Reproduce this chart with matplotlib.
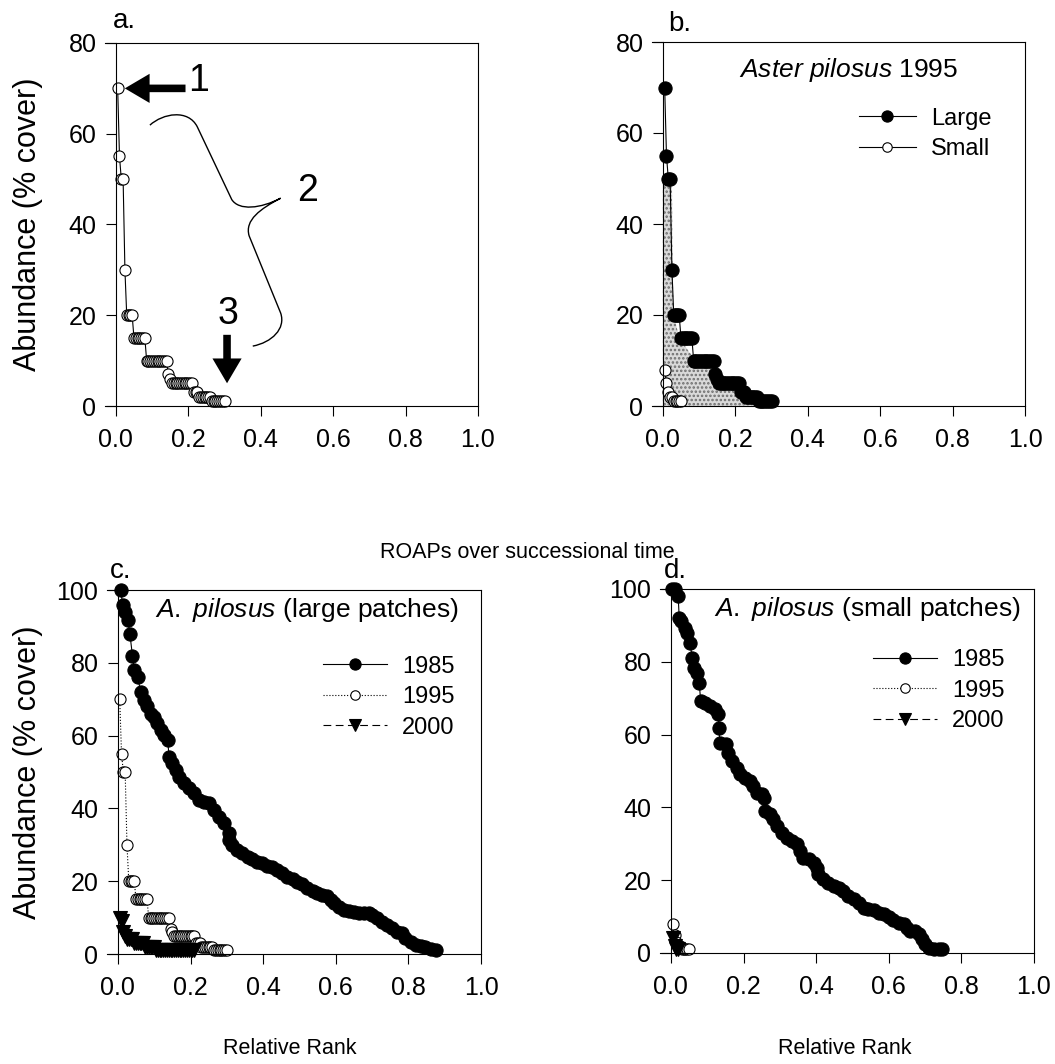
import numpy as np
import matplotlib
matplotlib.use('Agg')
from matplotlib import pyplot as plt
from matplotlib.path import Path
from matplotlib.patches import PathPatch, Polygon

plt.rcParams['font.family'] = ['Liberation Sans', 'DejaVu Sans']
plt.rcParams['mathtext.fontset'] = 'custom'
plt.rcParams['mathtext.rm'] = 'Liberation Sans'
plt.rcParams['mathtext.it'] = 'Liberation Sans:italic'
plt.rcParams['hatch.linewidth'] = 1.2

# number of patches used for relative rank (rank / N)
N_PATCH = 200

# 1995, large patches (also panel a and "Large" in b)
large_1995 = [70, 55, 50, 50, 30, 20, 20, 20, 20,
              15, 15, 15, 15, 15, 15, 15,
              10, 10, 10, 10, 10, 10, 10, 10, 10, 10, 10, 10,
              7, 6,
              5, 5, 5, 5, 5, 5, 5, 5, 5, 5, 5, 5,
              3, 3, 3,
              2, 2, 2, 2, 2, 2, 2,
              1, 1, 1, 1, 1, 1, 1, 1]

# 2000, large patches
large_2000 = [10, 9, 6, 5, 4, 4, 4, 4, 3, 3, 3, 3, 3, 3,
              2, 2, 2, 2, 2, 2,
              1, 1, 1, 1, 1, 1, 1, 1, 1, 1, 1,
              1, 1, 1, 1, 1, 1, 1, 1, 1, 1, 1]

# 1995 / 2000, small patches
small_1995 = [8, 5, 3, 2, 2, 1, 1, 1, 1, 1]
small_2000 = [4, 2, 1, 1]

# 1985, large patches (rank, abundance)
large_1985_rank = [0.008, 0.013, 0.019, 0.027, 0.033, 0.040, 0.045, 0.054, 0.063,
                   0.072, 0.080, 0.090, 0.100, 0.109, 0.118, 0.127, 0.137, 0.141,
                   0.150, 0.160, 0.169, 0.182, 0.196, 0.210, 0.224, 0.238, 0.251,
                   0.265, 0.279, 0.293, 0.306, 0.306, 0.315, 0.329, 0.343, 0.357,
                   0.370, 0.384, 0.398, 0.412, 0.425, 0.439, 0.453, 0.467, 0.481,
                   0.494, 0.508, 0.522, 0.536, 0.549, 0.563, 0.577, 0.586, 0.595,
                   0.609, 0.623, 0.636, 0.650, 0.664, 0.678, 0.691, 0.700, 0.714,
                   0.728, 0.742, 0.756, 0.769, 0.783, 0.792, 0.806, 0.820, 0.834,
                   0.847, 0.861, 0.875]
large_1985_abund = [100, 95.9, 94, 91.8, 88, 82, 78, 76.2, 72,
                    69.8, 68, 66, 65.2, 63.4, 61.5, 60.2, 58.8, 54.2,
                    52.4, 50.5, 48.7, 46.9, 45.5, 44.1, 42.3, 41.8, 41.4,
                    39.6, 37.7, 35.9, 33.2, 31.3, 30, 28.6, 27.7, 26.7,
                    26, 25.4, 24.9, 24.2, 23.8, 23.1, 22.2, 21.2, 20.5,
                    19.9, 19.2, 18, 17.4, 16.7, 16.2, 15.8, 14.8, 13.9,
                    13, 12.1, 11.8, 11.6, 11.4, 11.4, 11.4, 10.7, 9.8,
                    8.9, 8, 7.1, 6.1, 5.9, 4.3, 3.4, 2.5, 2.2,
                    2, 1.3, 1.1]

# 1985, small patches (rank, abundance)
small_1985_rank = [0.002, 0.011, 0.020, 0.023, 0.029, 0.039, 0.045, 0.052, 0.059,
                   0.063, 0.073, 0.078, 0.082, 0.094, 0.108, 0.121, 0.131, 0.132,
                   0.135, 0.152, 0.158, 0.167, 0.181, 0.190, 0.204, 0.218, 0.227,
                   0.238, 0.250, 0.257, 0.259, 0.273, 0.282, 0.293, 0.305, 0.319,
                   0.333, 0.347, 0.356, 0.365, 0.379, 0.393, 0.402, 0.406, 0.420,
                   0.434, 0.448, 0.462, 0.475, 0.489, 0.503, 0.517, 0.531, 0.544,
                   0.558, 0.572, 0.586, 0.600, 0.613, 0.627, 0.641, 0.650, 0.659,
                   0.673, 0.682, 0.691, 0.700, 0.710, 0.724, 0.737, 0.747]
small_1985_abund = [100, 100, 98, 92, 91.2, 89.4, 88, 85.3, 81.1,
                    78.4, 77, 74.3, 69.2, 68.8, 67.9, 66.9, 65.6, 61.9,
                    57.8, 57.3, 55, 52.7, 50.9, 49.1, 48.2, 47.3, 45.9,
                    44, 43.6, 42.7, 39, 38.1, 36.7, 34.9, 33.1, 31.7,
                    30.8, 29.9, 28, 26.2, 25.7, 24.8, 23.4, 21.6, 20.2,
                    19.3, 18.4, 17.9, 17, 15.7, 14.7, 13.8, 12.5, 12.2,
                    11.7, 11.1, 10.6, 9.9, 9.2, 8.3, 7.9, 7, 6,
                    6, 5.1, 3.8, 2.4, 1.5, 1, 1, 1]

# shaded region in panel b
shade_rank = [0.0, 0.0, 0.025, 0.027, 0.030, 0.045, 0.075, 0.13, 0.19, 0.25]
shade_abund = [0, 50, 50, 30, 20, 15, 11.6, 8.6, 4.2, 0]


def ranks(vals):
    return np.arange(1, len(vals) + 1) / N_PATCH


def setup(ax, ymax):
    ax.set_xlim(-0.03, 1.0)
    ax.set_ylim(0, ymax)
    ax.spines['left'].set_position(('data', 0))
    for s in ax.spines.values():
        s.set_linewidth(0.8)
    ax.set_xticks(np.arange(0, 1.01, 0.2))
    ax.set_xticklabels(['%.1f' % v for v in np.arange(0, 1.01, 0.2)])
    ax.set_yticks(np.arange(0, ymax + 1, 20))
    ax.tick_params(direction='out', length=7, width=0.8, labelsize=18,
                   top=False, right=False)
    ax.tick_params(axis='x', pad=9)
    ax.tick_params(axis='y', pad=7)


def series(ax, x, y, ls, marker, filled, label=None):
    return ax.plot(x, y, linestyle=ls, color='k', lw=0.8, marker=marker,
                   ms=9.5 if filled else 8,
                   mfc='k' if filled else 'w', mec='k', mew=0.8,
                   clip_on=False, label=label)[0]


def legend(ax, handles, labels, anchor, hlen):
    ax.legend(handles, labels, loc='upper left', bbox_to_anchor=anchor,
              frameon=False, fontsize=17, handlelength=hlen,
              handletextpad=0.65, labelspacing=0.36, borderpad=0,
              borderaxespad=0, markerscale=0.85)


fig = plt.figure(figsize=(10.55, 10.64), dpi=100)
W, H = 1055.0, 1064.0
ax_a = fig.add_axes([105 / W, 1 - 406 / H, 373 / W, 363 / H])
ax_b = fig.add_axes([652 / W, 1 - 406 / H, 373 / W, 364 / H])
ax_c = fig.add_axes([107 / W, 1 - 954 / H, 374 / W, 364 / H])
ax_d = fig.add_axes([660 / W, 1 - 953 / H, 374 / W, 364 / H])

# panel a
setup(ax_a, 80)
series(ax_a, ranks(large_1995), large_1995, '-', 'o', False)
arrow = dict(arrowstyle='simple,head_length=0.85,head_width=1.0,tail_width=0.26',
             mutation_scale=21, fc='k', ec='k', lw=0)
ax_a.annotate('', xy=(0.017, 70), xytext=(0.2, 70), arrowprops=arrow)
ax_a.annotate('', xy=(0.307, 4.4), xytext=(0.307, 16.3), arrowprops=arrow)
ax_a.text(0.227, 71.6, '1', fontsize=27, ha='center', va='center')
ax_a.text(0.528, 47.4, '2', fontsize=27, ha='center', va='center')
ax_a.text(0.309, 20.3, '3', fontsize=27, ha='center', va='center')
brace = Path([(0.094, 61.9),
              (0.13, 64.5), (0.2, 65.5), (0.225, 61.5),
              (0.32, 45.5),
              (0.34, 43.0), (0.40, 43.5), (0.455, 45.8),
              (0.40, 43.5), (0.355, 41.0), (0.368, 37.5),
              (0.455, 20.5),
              (0.47, 17.0), (0.43, 14.0), (0.378, 13.2)],
             [Path.MOVETO,
              Path.CURVE4, Path.CURVE4, Path.CURVE4,
              Path.LINETO,
              Path.CURVE4, Path.CURVE4, Path.CURVE4,
              Path.CURVE4, Path.CURVE4, Path.CURVE4,
              Path.LINETO,
              Path.CURVE4, Path.CURVE4, Path.CURVE4])
ax_a.add_patch(PathPatch(brace, fc='none', ec='k', lw=1.0))

# panel b
setup(ax_b, 80)
ax_b.add_patch(Polygon(np.column_stack([shade_rank, shade_abund]), closed=True,
                       fc='#d9d9d9', ec='#6e6e6e', lw=0, hatch='....'))
hs = series(ax_b, ranks(small_1995), small_1995, '-', 'o', False, 'Small')
hl = series(ax_b, ranks(large_1995), large_1995, '-', 'o', True, 'Large')
ax_b.text(0.815, 73.8, r'$\mathit{Aster\ pilosus}$ 1995', fontsize=19,
          ha='right', va='center')
legend(ax_b, [hl, hs], ['Large', 'Small'], (0.555, 0.82), 2.4)

# panel c
setup(ax_c, 100)
h1 = series(ax_c, large_1985_rank, large_1985_abund, '-', 'o', True)
h2 = series(ax_c, ranks(large_1995), large_1995, ':', 'o', False)
h3 = series(ax_c, ranks(large_2000), large_2000, (0, (7, 4)), 'v', True)
ax_c.text(0.94, 94.5, r'$\mathit{A.\ pilosus}$ (large patches)', fontsize=19,
          ha='right', va='center')
legend(ax_c, [h1, h2, h3], ['1985', '1995', '2000'], (0.578, 0.82), 2.7)

# panel d
setup(ax_d, 100)
h1 = series(ax_d, small_1985_rank, small_1985_abund, '-', 'o', True)
h2 = series(ax_d, ranks(small_1995), small_1995, ':', 'o', False)
h3 = series(ax_d, ranks(small_2000), small_2000, (0, (7, 4)), 'v', True)
ax_d.text(0.12, 94.5, r'$\mathit{A.\ pilosus}$ (small patches)', fontsize=19,
          ha='left', va='center')
legend(ax_d, [h1, h2, h3], ['1985', '1995', '2000'], (0.57, 0.835), 2.7)

# figure texts
for x, y, s in [(113, 28, 'a.'), (668, 31, 'b.'), (110, 578, 'c.'), (664, 578, 'd.')]:
    fig.text(x / W, 1 - y / H, s, fontsize=20, ha='left', va='baseline')
fig.text(28 / W, 1 - 224.5 / H, 'Abundance (% cover)', fontsize=22,
         rotation=90, ha='center', va='center')
fig.text(28 / W, 1 - 772 / H, 'Abundance (% cover)', fontsize=22,
         rotation=90, ha='center', va='center')
fig.text(527 / W, 1 - 552 / H, 'ROAPs over successional time', fontsize=15.5,
         ha='center', va='center')
fig.text(290 / W, 1 - 1048 / H, 'Relative Rank', fontsize=15.5,
         ha='center', va='center')
fig.text(845 / W, 1 - 1048 / H, 'Relative Rank', fontsize=15.5,
         ha='center', va='center')

fig.savefig('out.png', dpi=100)
